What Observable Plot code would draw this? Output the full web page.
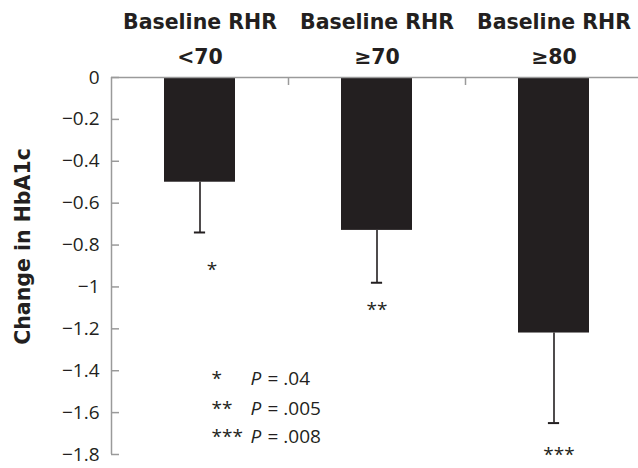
<!DOCTYPE html>
<html><head><meta charset="utf-8">
<script src="https://cdn.jsdelivr.net/npm/d3@7"></script>
<script src="https://cdn.jsdelivr.net/npm/@observablehq/plot@0.6"></script>
<style>body{margin:0;background:#fff}</style>
</head><body><div id="chart"></div>
<script>
const categories = ["<70", "≥70", "≥80"];
const headerLine1 = ["Baseline RHR", "Baseline RHR", "Baseline RHR"];
const meanChange = [-0.50, -0.73, -1.22];
const errorLow = [-0.74, -0.98, -1.65];
const starLabels = ["*", "**", "***"];
const starY = [-0.92, -1.11, -1.80];
const yTicks = [0, -0.2, -0.4, -0.6, -0.8, -1, -1.2, -1.4, -1.6, -1.8];
const legendStars = ["*", "**", "***"];
const legendPValues = ["= .04", "= .005", "= .008"];
const legendY = [-1.47, -1.61, -1.745];
const yTitle = "Change in HbA1c";

const W = 638, H = 468, mL = 111, mR = -4, mT = 77, mB = 14;
const frameW = W - mL - mR, frameH = H - mT - mB;
const step = frameW / categories.length;
const padInner = 0.6;
const bw = step * (1 - padInner);
const capW = 11, tickLen = 8;
const starShift = [12, 0, 5];
const dark = "#231f20", axisGray = "#9a9a9a";
const bold = "DejaVu Sans";
const bars = categories.map((c, i) => ({group: c, header: headerLine1[i], value: meanChange[i], low: errorLow[i], star: starLabels[i], starY: starY[i]}));
const legend = legendStars.map((s, i) => ({stars: s, p: legendPValues[i], y: legendY[i], group: categories[0]}));

const plot = Plot.plot({
  width: W, height: H,
  marginLeft: mL, marginRight: mR, marginTop: mT, marginBottom: mB,
  style: {fontFamily: "'Open Sans'", fontSize: "19px", color: dark, background: "#fff", overflow: "visible"},
  x: {domain: categories, paddingInner: padInner, paddingOuter: padInner / 2, axis: null},
  y: {domain: [yTicks[yTicks.length - 1], 0], axis: null},
  marks: [
    Plot.barY(bars, {x: "group", y: "value", fill: dark}),
    Plot.ruleX(bars, {x: "group", y1: "value", y2: "low", stroke: dark, strokeWidth: 1.6}),
    Plot.tickY(bars, {x: "group", y: "low", stroke: dark, strokeWidth: 2, insetLeft: (bw - capW) / 2, insetRight: (bw - capW) / 2}),
    Plot.ruleY([0], {stroke: axisGray, strokeWidth: 1.5}),
    Plot.ruleX([categories[0]], {x: d => d, y1: 0, y2: yTicks[yTicks.length - 1], dx: -step / 2, stroke: axisGray, strokeWidth: 1.5}),
    Plot.tickY(yTicks, {y: d => d, insetRight: frameW - tickLen, stroke: axisGray, strokeWidth: 1.5}),
    Plot.tickX(categories, {x: d => d, dx: step / 2, insetBottom: frameH - tickLen, stroke: axisGray, strokeWidth: 1.5}),
    Plot.axisY({ticks: yTicks, tickFormat: d3.format("~f"), tickSize: 0, tickPadding: 12, fill: dark, fontSize: 19, label: null}),
    Plot.text(bars, {x: "group", text: "header", frameAnchor: "top", lineAnchor: "bottom", dy: -49, fontFamily: bold, fontWeight: "bold", fontSize: 20.5, fill: dark}),
    Plot.text(bars, {x: "group", text: "group", frameAnchor: "top", lineAnchor: "bottom", dy: -14, fontFamily: bold, fontWeight: "bold", fontSize: 20.5, fill: dark}),
    ...bars.map((b, i) => Plot.text([b], {x: "group", y: "starY", text: "star", dx: starShift[i], fontSize: 19, fill: dark})),
    Plot.text(legend, {x: "group", y: "y", text: "stars", textAnchor: "start", lineAnchor: "bottom", dx: 11.5, fontSize: 19, fill: dark}),
    Plot.text(legend, {x: "group", y: "y", text: () => "P", textAnchor: "start", lineAnchor: "bottom", dx: 50.5, fontStyle: "italic", fontSize: 19, fill: dark}),
    Plot.text(legend, {x: "group", y: "y", text: "p", textAnchor: "start", lineAnchor: "bottom", dx: 67.5, fontSize: 19, fill: dark}),
    Plot.text([yTitle], {frameAnchor: "left", textAnchor: "middle", rotate: -90, dx: -87.6, dy: -19.5, fontFamily: bold, fontWeight: "bold", fontSize: 20.5, fill: dark})
  ]
});
document.getElementById("chart").appendChild(plot);
</script>
</body></html>
